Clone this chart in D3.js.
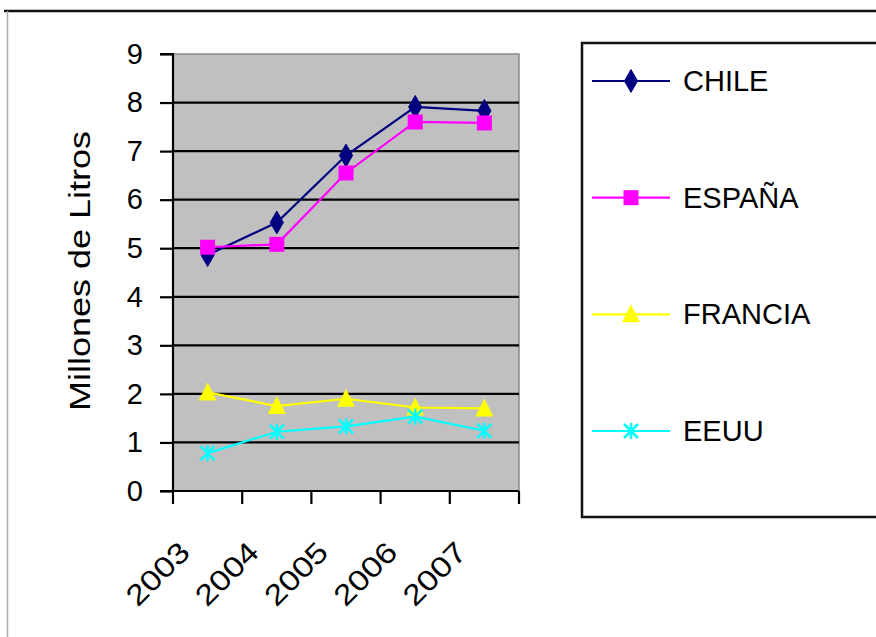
<!DOCTYPE html>
<html><head><meta charset="utf-8">
<script src="https://cdn.jsdelivr.net/npm/d3@7"></script>
<style>body{margin:0;background:#fff}svg{display:block}text{font-family:"Liberation Sans",Arial,sans-serif;fill:#000}</style>
</head><body>
<svg id="c" width="876" height="637"></svg>
<script>
const years = ["2003","2004","2005","2006","2007"];
const seriesNames = ["CHILE","ESPAÑA","FRANCIA","EEUU"];
const chile   = [4.86, 5.53, 6.91, 7.91, 7.83];
const espana  = [5.02, 5.08, 6.55, 7.60, 7.58];
const francia = [2.03, 1.75, 1.90, 1.72, 1.70];
const eeuu    = [0.78, 1.22, 1.33, 1.53, 1.24];
const yTicks  = [0,1,2,3,4,5,6,7,8,9];
const yTitle  = "Millones de Litros";

const colors  = ["#000080","#FF00FF","#FFFF00","#00FFFF"];
const markers = ["diamond","square","triangle","cross"];
const series = [chile, espana, francia, eeuu].map((v,i)=>({name:seriesNames[i],values:v,color:colors[i],marker:markers[i]}));

const svg = d3.select("#c");
const L=173, R=519, T=54, B=491;
const x = d3.scaleBand().domain(years).range([L,R]);
const y = d3.scaleLinear().domain([0,9]).range([B,T]);

// outer frame
svg.append("line").attr("x1",4).attr("x2",876).attr("y1",11).attr("y2",11).attr("stroke","#111").attr("stroke-width",2.5);
svg.append("line").attr("x1",7.5).attr("x2",7.5).attr("y1",11).attr("y2",637).attr("stroke","#aaa").attr("stroke-width",1.5);

// plot area
svg.append("rect").attr("x",L).attr("y",T).attr("width",R-L).attr("height",B-T).attr("fill","#c0c0c0").attr("stroke","#8a8a8a").attr("stroke-width",1.5);

// gridlines
svg.append("g").selectAll("line").data(yTicks.filter(d=>d>0&&d<9)).join("line")
  .attr("x1",L).attr("x2",R).attr("y1",d=>y(d)).attr("y2",d=>y(d)).attr("stroke","#000").attr("stroke-width",2.2);

// y axis
const yAxis = d3.axisLeft(y).tickValues(yTicks).tickSize(13).tickPadding(17).tickFormat(d3.format("d"));
const gy = svg.append("g").attr("transform",`translate(${L},0)`).call(yAxis);
gy.select(".domain").attr("stroke","#000").attr("stroke-width",2.2).attr("d",`M-13,${T}H0V${B}`);
gy.selectAll(".tick line").attr("stroke","#000").attr("stroke-width",2.2);
gy.selectAll(".tick text").attr("font-size",29).attr("font-family","Liberation Sans, Arial, sans-serif").attr("fill","#000");

// x axis line and ticks at band edges
svg.append("line").attr("x1",L-13).attr("x2",R).attr("y1",B).attr("y2",B).attr("stroke","#000").attr("stroke-width",2.2);
const edges = years.map(d=>x(d)).concat([R]);
svg.append("g").selectAll("line").data(edges).join("line")
  .attr("x1",d=>d).attr("x2",d=>d).attr("y1",B).attr("y2",B+13).attr("stroke","#000").attr("stroke-width",2.2);

// x labels rotated
svg.append("g").selectAll("text").data(years).join("text")
  .attr("transform",d=>`translate(${x(d)+x.bandwidth()/2-16},554) rotate(-45)`)
  .attr("text-anchor","end").attr("font-size",29)
  .attr("textLength",76).attr("lengthAdjust","spacingAndGlyphs")
  .text(d=>d);

// y title
svg.append("text").attr("transform","translate(90,271) rotate(-90)")
  .attr("text-anchor","middle").attr("font-size",30)
  .attr("textLength",280).attr("lengthAdjust","spacingAndGlyphs").text(yTitle);

// lines
const line = d3.line().x((d,i)=>x(years[i])+x.bandwidth()/2).y(d=>y(d));
function drawMarker(g, type, color){
  if(type==="diamond") g.append("path").attr("d",d3.symbol(d3.symbolDiamond,150)()).attr("fill",color).attr("stroke",color);
  else if(type==="square") g.append("rect").attr("x",-7.5).attr("y",-7.5).attr("width",15).attr("height",15).attr("fill",color);
  else if(type==="triangle") g.append("path").attr("d","M0,-10L9,8L-9,8Z").attr("fill",color);
  else { g.append("path").attr("d","M-7,-7L7,7M-7,7L7,-7M0,-8V8").attr("stroke",color).attr("stroke-width",2.5).attr("fill","none"); }
}
series.forEach(s=>{
  svg.append("path").datum(s.values).attr("d",line).attr("fill","none").attr("stroke",s.color).attr("stroke-width",2.2);
  s.values.forEach((v,i)=>{
    const g = svg.append("g").attr("transform",`translate(${x(years[i])+x.bandwidth()/2},${y(v)})`);
    drawMarker(g,s.marker,s.color);
  });
});

// legend
svg.append("rect").attr("x",582).attr("y",43).attr("width",310).attr("height",474).attr("fill","#fff").attr("stroke","#111").attr("stroke-width",2.5);
const ly = d3.scalePoint().domain(seriesNames).range([81,431]);
series.forEach(s=>{
  const yy = ly(s.name);
  svg.append("line").attr("x1",592).attr("x2",670).attr("y1",yy).attr("y2",yy).attr("stroke",s.color).attr("stroke-width",2.2);
  const g = svg.append("g").attr("transform",`translate(631,${yy})`);
  drawMarker(g,s.marker,s.color);
  svg.append("text").attr("x",683).attr("y",yy+10).attr("font-size",29).text(s.name);
});
</script>
</body></html>
